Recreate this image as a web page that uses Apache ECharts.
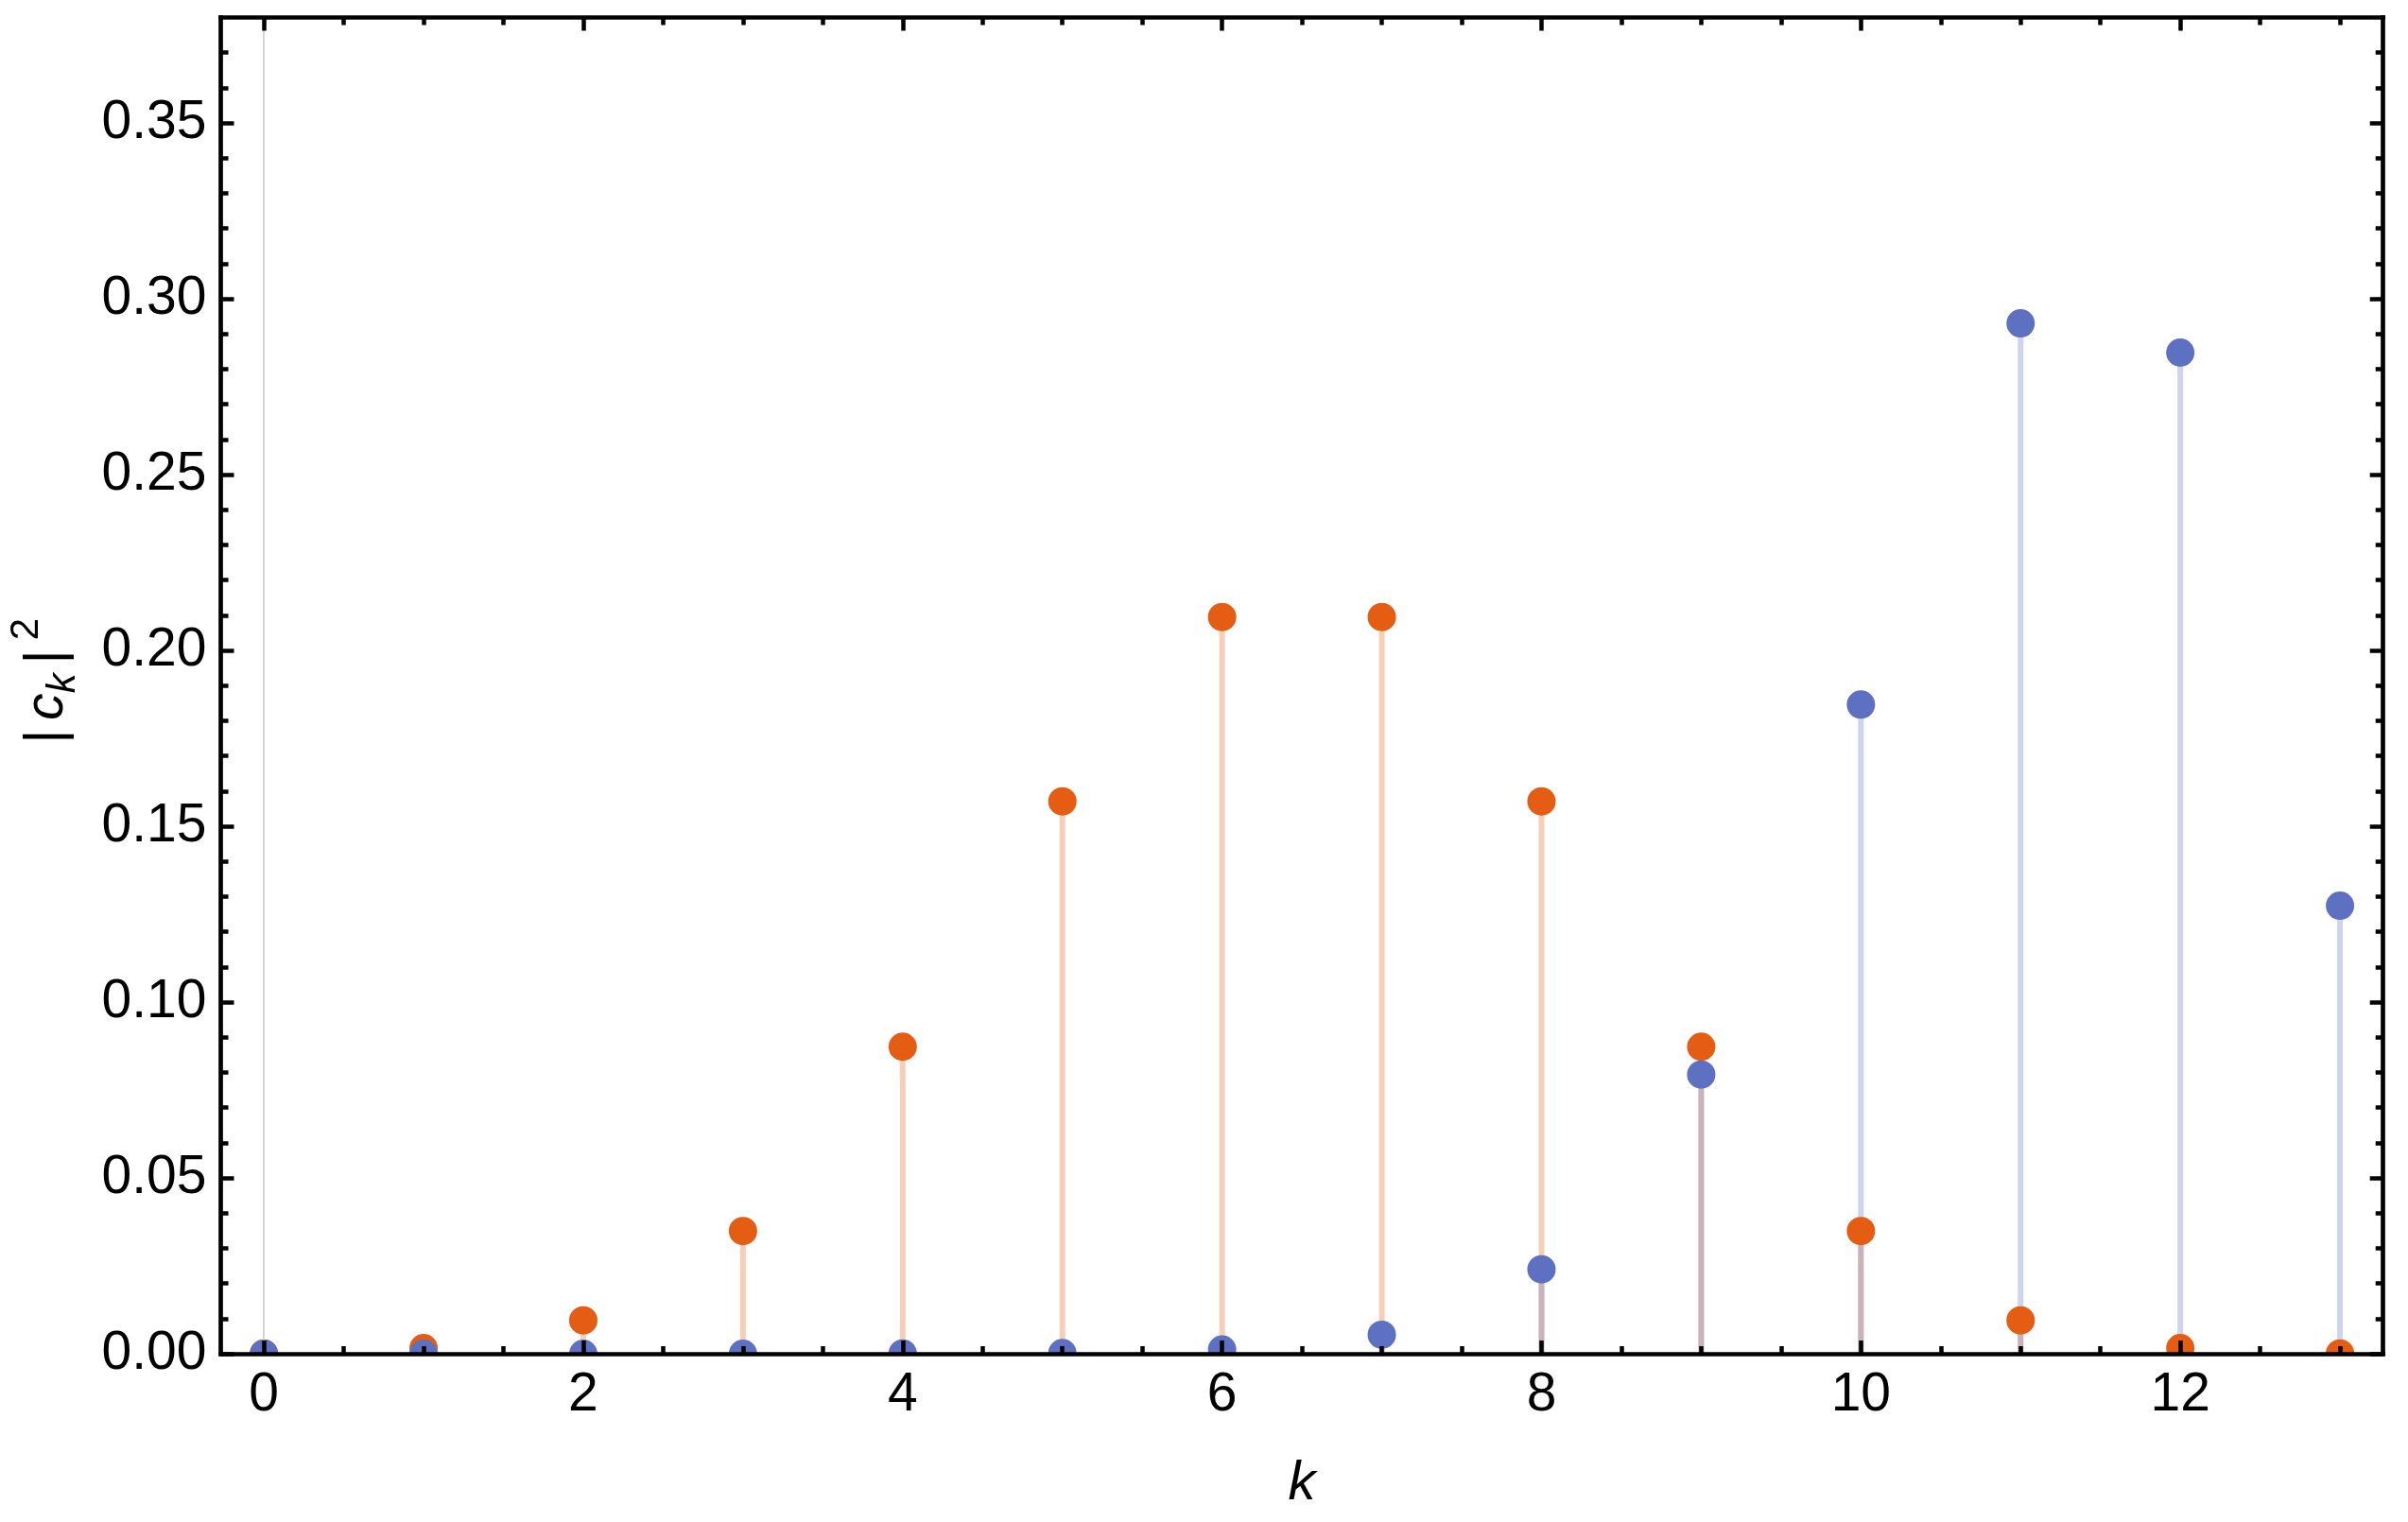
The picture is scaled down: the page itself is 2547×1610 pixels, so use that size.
<!DOCTYPE html>
<html>
<head>
<meta charset="utf-8">
<script src="https://cdn.jsdelivr.net/npm/echarts@6/dist/echarts.min.js"></script>
<style>
  html, body { margin: 0; padding: 0; background: #fff; }
  #chart { width: 2547px; height: 1610px; }
</style>
</head>
<body>
<div id="chart"></div>
<script>
// k = 0..13
var kValues = [0, 1, 2, 3, 4, 5, 6, 7, 8, 9, 10, 11, 12, 13];
// orange points |c_k|^2
var probOrange = [0.0001, 0.0016, 0.0095, 0.0349, 0.0873, 0.1571, 0.2095, 0.2095, 0.1571, 0.0873, 0.0349, 0.0095, 0.0016, 0.0001];
// blue points |c_k|^2
var probBlue = [0, 0, 0, 0, 0.0001, 0.0002, 0.0012, 0.0054, 0.0240, 0.0794, 0.1846, 0.2930, 0.2847, 0.1274];

// frame ticks
var xMajorTicks = [0, 2, 4, 6, 8, 10, 12];
var xMinorTicks = [0.5, 1, 1.5, 2.5, 3, 3.5, 4.5, 5, 5.5, 6.5, 7, 7.5, 8.5, 9, 9.5, 10.5, 11, 11.5, 12.5, 13];
var yMajorTicks = [0, 0.05, 0.10, 0.15, 0.20, 0.25, 0.30, 0.35];
var yMinorTicks = [0.01, 0.02, 0.03, 0.04, 0.06, 0.07, 0.08, 0.09, 0.11, 0.12, 0.13, 0.14,
                   0.16, 0.17, 0.18, 0.19, 0.21, 0.22, 0.23, 0.24, 0.26, 0.27, 0.28, 0.29,
                   0.31, 0.32, 0.33, 0.34, 0.36, 0.37];

var xRange = [-0.27, 13.27];
var yRange = [0, 0.38];

var FONT = '"Liberation Sans", Arial, Helvetica, sans-serif';
var ORANGE = '#e45d13';
var BLUE = '#5e70c2';

function toPairs(xs, ys) {
    return xs.map(function(x, i) { return [x, ys[i]]; });
}

// one side of the frame: line + major ticks, or minor ticks only
function frameAxis(pos, range, ticks, tickLen, withLine) {
    return {
        type: 'value',
        position: pos,
        min: range[0],
        max: range[1],
        z: 10,
        axisLine: {
            show: withLine,
            onZero: false,
            lineStyle: { color: '#000', width: 4.7, cap: 'square' }
        },
        axisTick: {
            show: true,
            inside: true,
            length: tickLen,
            customValues: ticks,
            lineStyle: { color: '#000', width: 4.5 }
        },
        axisLabel: { show: false },
        splitLine: { show: false },
        minorTick: { show: false }
    };
}

// dots drawn as circles so the frame clips them (half dots on the axis)
function dotSeries(name, values, color, z) {
    return {
        name: name,
        type: 'custom',
        xAxisIndex: 0,
        yAxisIndex: 0,
        z: z,
        clip: true,
        encode: { x: 0, y: 1 },
        data: toPairs(kValues, values),
        renderItem: function(params, api) {
            var p = api.coord([api.value(0), api.value(1)]);
            return {
                type: 'circle',
                shape: { cx: p[0], cy: p[1], r: 15 },
                style: { fill: color }
            };
        }
    };
}

var xBottom = frameAxis('bottom', xRange, xMajorTicks, 14, true);
xBottom.axisLabel = {
    show: true,
    customValues: xMajorTicks,
    margin: 16,
    fontSize: 57,
    fontFamily: FONT,
    color: '#000'
};
xBottom.name = 'k';
xBottom.nameLocation = 'middle';
xBottom.nameGap = 109;
xBottom.nameTextStyle = { fontSize: 58, fontFamily: FONT, fontStyle: 'italic', color: '#000' };

var yLeft = frameAxis('left', yRange, yMajorTicks, 14, true);
yLeft.axisLabel = {
    show: true,
    customValues: yMajorTicks,
    margin: 15,
    fontSize: 57,
    fontFamily: FONT,
    color: '#000',
    formatter: function(v) { return v.toFixed(2); }
};
yLeft.name = '{b||}{i|c}{s|k}{b||}{p|2}';
yLeft.nameLocation = 'middle';
yLeft.nameRotate = 90;
yLeft.nameGap = 133;
yLeft.nameTextStyle = {
    color: '#000',
    rich: {
        b: { fontSize: 57, fontFamily: FONT, lineHeight: 100, padding: [0, 10, 0, 10], color: '#000' },
        i: { fontSize: 57, fontFamily: FONT, fontStyle: 'italic', lineHeight: 100, color: '#000' },
        s: { fontSize: 42, fontFamily: FONT, fontStyle: 'italic', height: 66, verticalAlign: 'bottom', color: '#000' },
        p: { fontSize: 42, fontFamily: FONT, height: 55, verticalAlign: 'top', color: '#000' }
    }
};

var option = {
    animation: false,
    backgroundColor: '#fff',
    grid: {
        left: 233.5,
        right: 26.3,
        top: 18.5,
        bottom: 178,
        outerBoundsMode: 'none'
    },
    xAxis: [
        xBottom,
        frameAxis('bottom', xRange, xMinorTicks, 8, false),
        frameAxis('top', xRange, xMajorTicks, 14, true),
        frameAxis('top', xRange, xMinorTicks, 8, false)
    ],
    yAxis: [
        yLeft,
        frameAxis('left', yRange, yMinorTicks, 8, false),
        frameAxis('right', yRange, yMajorTicks, 14, true),
        frameAxis('right', yRange, yMinorTicks, 8, false)
    ],
    series: [
        {
            name: 'stem-orange',
            type: 'bar',
            xAxisIndex: 0,
            yAxisIndex: 0,
            barWidth: 6,
            barGap: '-100%',
            z: 2,
            itemStyle: { color: 'rgba(228,93,19,0.3)' },
            data: toPairs(kValues, probOrange),
            markLine: {
                silent: true,
                symbol: ['none', 'none'],
                label: { show: false },
                lineStyle: { color: '#cccccc', width: 1.6, type: 'solid' },
                data: [{ xAxis: 0 }]
            }
        },
        {
            name: 'stem-blue',
            type: 'bar',
            xAxisIndex: 0,
            yAxisIndex: 0,
            barWidth: 6,
            barGap: '-100%',
            z: 2,
            itemStyle: { color: 'rgba(94,112,194,0.3)' },
            data: toPairs(kValues, probBlue)
        },
        dotSeries('orange', probOrange, ORANGE, 3),
        dotSeries('blue', probBlue, BLUE, 4)
    ]
};

var myChart = echarts.init(document.getElementById('chart'));
myChart.setOption(option);
</script>
</body>
</html>
